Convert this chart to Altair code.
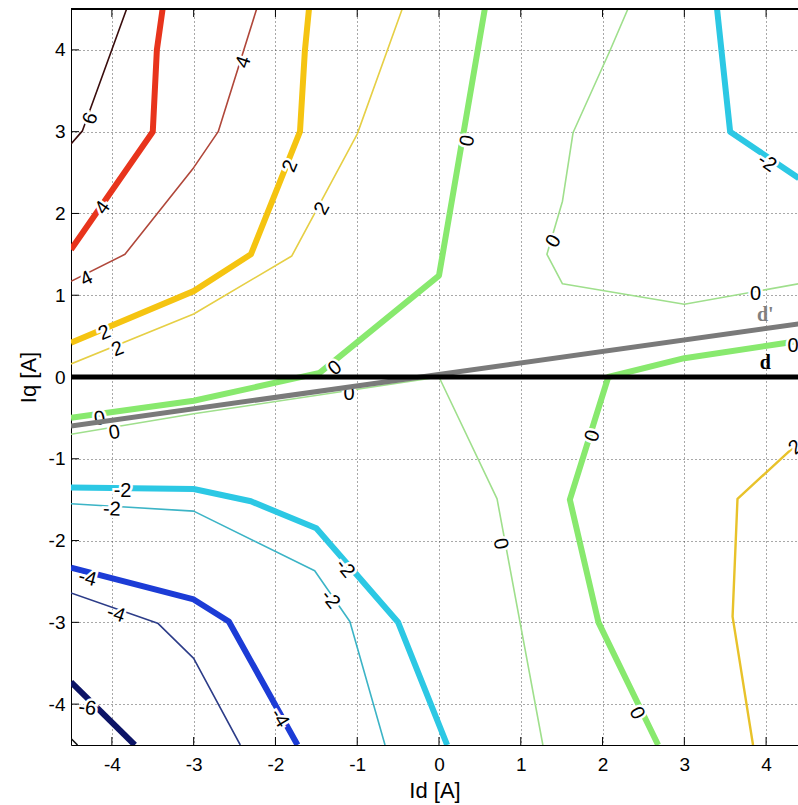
import altair as alt
import pandas as pd

# ---- contour polylines (Id, Iq) ----
# thick set
thick_pos4 = [(-4.5, 1.56), (-3.5, 3.0), (-3.45, 4.0), (-3.38, 4.5)]
thick_pos2 = [(-4.5, 0.42), (-3.0, 1.05), (-2.3, 1.5), (-1.7, 3.0), (-1.64, 3.99), (-1.59, 4.5)]
thick_zero_a = [(-4.5, -0.50), (-3.0, -0.29), (-1.46, 0.05), (0.0, 1.24), (0.56, 4.5)]
thick_zero_b = [(4.4, 0.44), (3.0, 0.23), (2.07, 0.0), (1.6, -1.5), (1.95, -3.0), (2.68, -4.5)]
thick_neg2_a = [(-4.5, -1.35), (-3.0, -1.37), (-2.3, -1.52), (-1.5, -1.85), (-0.5, -3.0), (0.1, -4.5)]
thick_neg2_b = [(3.4, 4.5), (3.56, 3.0), (4.4, 2.43)]
thick_neg4 = [(-4.5, -2.33), (-3.0, -2.72), (-2.57, -2.99), (-1.73, -4.5)]
thick_neg6 = [(-4.5, -3.73), (-3.72, -4.5)]

# thin set
thin_pos6 = [(-4.5, 2.85), (-4.36, 3.01), (-3.82, 4.5)]
thin_pos4 = [(-4.5, 1.17), (-3.84, 1.5), (-3.0, 2.56), (-2.7, 3.0), (-2.23, 4.5)]
thin_pos2_a = [(-4.5, 0.16), (-3.0, 0.77), (-1.8, 1.48), (-1.0, 2.97), (-0.45, 4.5)]
thin_pos2_b = [(4.4, -0.8), (3.65, -1.49), (3.59, -2.93), (3.84, -4.5)]
thin_zero_a = [(2.31, 4.5), (2.09, 3.99), (1.64, 2.99), (1.51, 2.15), (1.32, 1.5),
               (1.51, 1.14), (3.0, 0.89), (4.4, 1.14)]
thin_zero_b = [(-4.5, -0.70), (-3.0, -0.45), (0.0, 0.0), (0.71, -1.49), (1.27, -4.5)]
thin_neg2 = [(-4.5, -1.55), (-3.0, -1.64), (-1.52, -2.37), (-1.09, -2.99), (-0.66, -4.5)]
thin_neg4 = [(-4.5, -2.64), (-3.44, -3.01), (-3.0, -3.44), (-2.43, -4.5)]
thin_neg6 = [(-4.5, -4.42), (-4.42, -4.5)]

# d and d' axes
d_axis = [(-4.5, 0.0), (4.4, 0.0)]
d_prime_axis = [(-4.5, -0.6), (4.4, 0.65)]

# contour label text, position and rotation (deg)
label_text = ["6", "4", "4", "4", "2", "2", "2", "2",
              "0", "0", "0", "0", "0", "0", "0", "0", "0", "0", "0",
              "-2", "-2", "-2", "-2", "-2", "-4", "-4", "-4", "-6", "2"]
label_x = [-4.26, -4.11, -4.31, -2.39, -4.09, -1.82, -3.93, -1.43,
           0.35, -1.27, -4.15, 4.33, 1.88, 2.42, 1.40, 3.87, -3.97, -1.10, 0.75,
           4.01, -3.87, -4.00, -1.15, -1.33, -4.30, -3.95, -1.95, -4.30, 4.36]
label_y = [3.16, 2.07, 1.20, 3.85, 0.54, 2.58, 0.34, 2.06,
           2.89, 0.11, -0.51, 0.38, -0.72, -4.11, 1.66, 1.02, -0.68, -0.21, -2.04,
           2.62, -1.40, -1.62, -2.34, -2.72, -2.46, -2.90, -4.17, -4.05, -0.86]
label_angle = [290, 305, 333, 288, 337, 292, 338, 298,
               280, 321, 350, 0, 287, 64, 300, 0, 350, 0, 79,
               34, 0, 3, 51, 52, 15, 19, 59, 8, 320]

tick_values = [-4, -3, -2, -1, 0, 1, 2, 3, 4]

# ---- styling ----
THICK, THIN, MID, REF = 6, 1.6, 2.4, 5
curves = [
    (thick_pos4, THICK, "#e8341c"),
    (thick_pos2, THICK, "#f5c411"),
    (thick_zero_a, THICK, "#88e96e"),
    (thick_zero_b, THICK, "#88e96e"),
    (thick_neg2_a, THICK, "#2cc8e4"),
    (thick_neg2_b, THICK, "#2cc8e4"),
    (thick_neg4, THICK, "#1c3cd6"),
    (thick_neg6, THICK, "#0c1466"),
    (thin_pos6, THIN, "#3a0d0d"),
    (thin_pos4, THIN, "#b0473a"),
    (thin_pos2_a, THIN, "#e6cf45"),
    (thin_pos2_b, MID, "#e8c22a"),
    (thin_zero_a, THIN, "#9fdf8c"),
    (thin_zero_b, THIN, "#9fdf8c"),
    (thin_neg2, THIN, "#3cb4c6"),
    (thin_neg4, THIN, "#2c3c88"),
    (thin_neg6, THIN, "#111111"),
]
ref_lines = [
    (d_prime_axis, REF, "#7a7a7a"),
    (d_axis, REF, "#000000"),
]

W, H = 727, 736
FONT = "Liberation Sans"

xscale = alt.Scale(domain=[-4.5, 4.39], nice=False, zero=False)
yscale = alt.Scale(domain=[-4.5, 4.5], nice=False, zero=False)

grid_kw = dict(values=tick_values, labelExpr="'' + datum.value",
               grid=True, gridDash=[1, 3], gridColor="#333333",
               gridOpacity=0.85, gridWidth=1, ticks=False, tickSize=0,
               domain=True, domainColor="#000000", domainWidth=1,
               labelFont=FONT, labelFontSize=19, labelColor="#000000",
               titleFont=FONT, titleFontSize=22, titleFontWeight="normal", titleColor="#000000")
x_axis = alt.Axis(title="Id [A]", labelPadding=10, titlePadding=6, **grid_kw)
y_axis = alt.Axis(title="Iq [A]", labelPadding=6, titlePadding=8, **grid_kw)


def X():
    return alt.X("x:Q", scale=xscale, axis=x_axis)


def Y():
    return alt.Y("y:Q", scale=yscale, axis=y_axis)


def line_layer(pts, width, color):
    df = pd.DataFrame(pts, columns=["x", "y"])
    df["i"] = range(len(df))
    return alt.Chart(df).mark_line(
        clip=True, strokeWidth=width, color=color, strokeJoin="round"
    ).encode(x=X(), y=Y(), order="i:Q")


labels_df = pd.DataFrame({"t": label_text, "x": label_x, "y": label_y, "ang": label_angle})
ticks_x = pd.DataFrame({"x": tick_values})
ticks_y = pd.DataFrame({"y": tick_values})

contour_layers = [line_layer(p, w, c) for p, w, c in curves]
ref_layers = [line_layer(p, w, c) for p, w, c in ref_lines]

halo = alt.Chart(labels_df).mark_text(
    font=FONT, fontSize=20, color="white", stroke="white", strokeWidth=5,
    align="center", baseline="middle"
).encode(x=X(), y=Y(), text="t:N", angle=alt.Angle("ang:Q", scale=None))

labels = alt.Chart(labels_df).mark_text(
    font=FONT, fontSize=20, color="black", align="center", baseline="middle"
).encode(x=X(), y=Y(), text="t:N", angle=alt.Angle("ang:Q", scale=None))

d_prime_name = alt.Chart(pd.DataFrame({"x": [3.99], "y": [0.76], "t": ["d'"]})).mark_text(
    font="Liberation Serif", fontSize=20, fontWeight="bold", color="#808080",
    align="center", baseline="middle"
).encode(x=X(), y=Y(), text="t:N")
d_name = alt.Chart(pd.DataFrame({"x": [3.99], "y": [0.17], "t": ["d"]})).mark_text(
    font="Liberation Serif", fontSize=20, fontWeight="bold", color="#000000",
    align="center", baseline="middle"
).encode(x=X(), y=Y(), text="t:N")

# inward tick marks on bottom, top and left edges, plus the top frame line
tick_bottom = alt.Chart(ticks_x).mark_rule(color="black", strokeWidth=1).encode(
    x=X(), y=alt.value(H), y2=alt.value(H - 8))
tick_top = alt.Chart(ticks_x).mark_rule(color="black", strokeWidth=1).encode(
    x=X(), y=alt.value(0), y2=alt.value(8))
tick_left = alt.Chart(ticks_y).mark_rule(color="black", strokeWidth=1).encode(
    y=Y(), x=alt.value(0), x2=alt.value(8))
top_border = alt.Chart(ticks_x).mark_rule(color="black", strokeWidth=1).encode(
    x=alt.value(0), x2=alt.value(W), y=alt.value(0))

chart = alt.layer(
    *contour_layers, halo, labels, *ref_layers, d_prime_name, d_name,
    tick_bottom, tick_top, tick_left, top_border
).properties(
    width=W, height=H,
    autosize=alt.AutoSizeParams(type="none"),
    padding={"left": 71, "top": 9, "right": 0, "bottom": 60},
).configure_view(stroke=None).configure(background="white")

chart.save("out.html", embed_options={"renderer": "svg", "actions": False})
